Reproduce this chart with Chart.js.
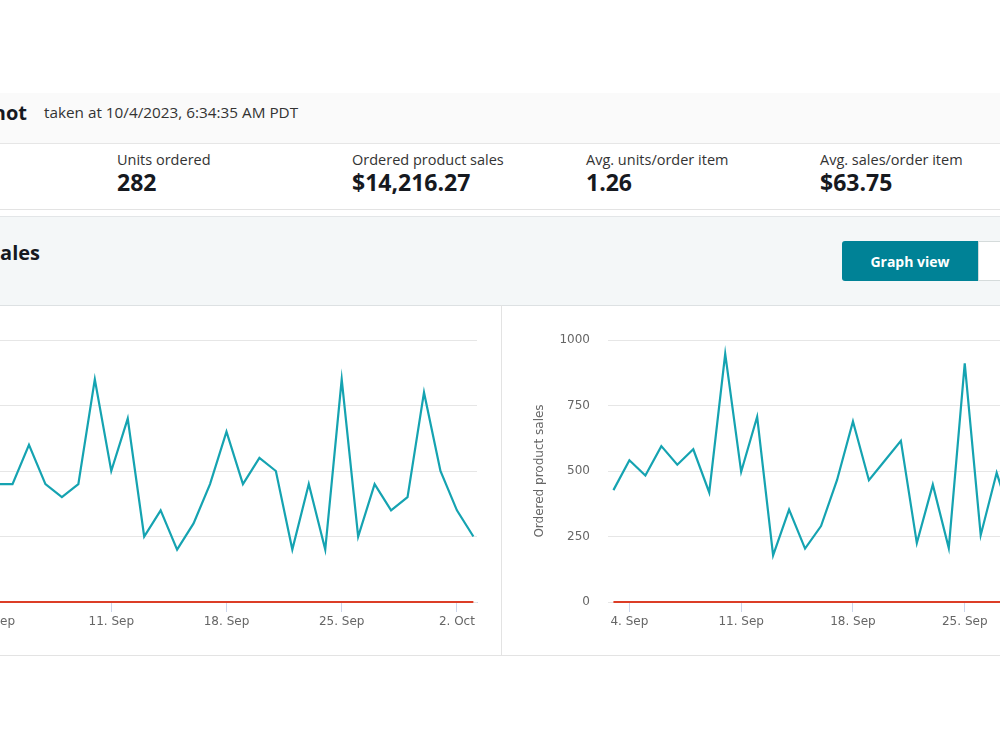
<!DOCTYPE html>
<html>
<head>
<meta charset="utf-8">
<script src="https://cdn.jsdelivr.net/npm/chart.js@4.4.0/dist/chart.umd.min.js"></script>
<style>
  html, body { margin: 0; padding: 0; width: 1000px; height: 750px; overflow: hidden; background: #fff; }
  body { position: relative; font-family: "Open Sans", sans-serif; color: #0f1111; }
  .abs { position: absolute; }
  .snap { left: 0; top: 93px; width: 1000px; height: 50px; background: #fafafa; border-bottom: 1px solid #e6e6e6; }
  .metrics { left: 0; top: 144px; width: 1000px; height: 65px; background: #fff; border-bottom: 1px solid #e3e3e3; }
  .panel { left: 0; top: 216px; width: 1000px; height: 88px; background: #f4f7f8; border-top: 1px solid #e3e6e8; border-bottom: 1px solid #dde1e3; }
  .charts { left: 0; top: 305px; width: 1000px; height: 350px; border-bottom: 1px solid #e3e3e3; }
  .divider { left: 501px; top: 305px; width: 1px; height: 350px; background: #e3e3e3; }
  .ttl { font-weight: 700; font-size: 20px; line-height: 24px; white-space: nowrap; color: #16191f; }
  .taken { left: 44px; top: 103px; font-size: 15.3px; line-height: 19px; color: #333; white-space: nowrap; }
  .lbl { top: 151px; font-size: 14.5px; line-height: 18px; color: #333; white-space: nowrap; }
  .val { top: 168px; font-size: 23px; line-height: 28px; font-weight: 700; color: #16191f; white-space: nowrap; }
  .btn { left: 842px; top: 241px; width: 136px; height: 40px; background: #008296; color: #fff; border-radius: 3px 0 0 3px;
         font-weight: 700; font-size: 14px; display: flex; align-items: center; justify-content: center; }
  .btn2 { left: 978px; top: 241px; width: 60px; height: 38px; background: #fff; border: 1px solid #d5dbdb; }
  .chartbox { top: 305px; height: 350px; }
</style>
</head>
<body>
<div class="abs snap"></div>
<div class="abs ttl" style="right:973px; top:101px;">Sales Snapshot</div>
<div class="abs taken">taken at 10/4/2023, 6:34:35 AM PDT</div>

<div class="abs metrics"></div>
<div class="abs lbl" style="left:117px">Units ordered</div>
<div class="abs val" style="left:117px">282</div>
<div class="abs lbl" style="left:352px">Ordered product sales</div>
<div class="abs val" style="left:352px">$14,216.27</div>
<div class="abs lbl" style="left:586px">Avg. units/order item</div>
<div class="abs val" style="left:586px">1.26</div>
<div class="abs lbl" style="left:820px">Avg. sales/order item</div>
<div class="abs val" style="left:820px">$63.75</div>

<div class="abs panel"></div>
<div class="abs ttl" style="right:960px; top:241px;">Compare Sales</div>
<div class="abs btn">Graph view</div>
<div class="abs btn2"></div>

<div class="abs charts"></div>
<div class="abs chartbox" style="left:-132px; width:633px;"><canvas id="chartUnits"></canvas></div>
<div class="abs divider"></div>
<div class="abs chartbox" style="left:502px; width:618px;"><canvas id="chartSales"></canvas></div>

<script>
// days shown on the x axis (3 Sep - 3 Oct 2023)
const days = ['3. Sep', '4. Sep', '5. Sep', '6. Sep', '7. Sep', '8. Sep', '9. Sep', '10. Sep',
  '11. Sep', '12. Sep', '13. Sep', '14. Sep', '15. Sep', '16. Sep', '17. Sep', '18. Sep',
  '19. Sep', '20. Sep', '21. Sep', '22. Sep', '23. Sep', '24. Sep', '25. Sep', '26. Sep',
  '27. Sep', '28. Sep', '29. Sep', '30. Sep', '1. Oct', '2. Oct', '3. Oct'];
const xTickLabels = ['4. Sep', '11. Sep', '18. Sep', '25. Sep', '2. Oct'];

const unitsOrdered = [10, 9, 9, 12, 9, 8, 9, 17, 10, 14, 5, 7, 4, 6, 9, 13,
  9, 11, 10, 4, 9, 4, 17, 5, 9, 7, 8, 16, 10, 7, 5];
const orderedSales = [427, 541, 483, 595, 524, 583, 418, 947, 497, 707, 178, 353, 204, 290, 465, 689,
  465, 540, 615, 225, 448, 206, 911, 255, 493, 300, 330, 680, 400, 270, 177];
const compareUnits = [0, 0, 0, 0, 0, 0, 0, 0, 0, 0, 0, 0, 0, 0, 0, 0,
  0, 0, 0, 0, 0, 0, 0, 0, 0, 0, 0, 0, 0, 0, 0];
const compareSales = [0, 0, 0, 0, 0, 0, 0, 0, 0, 0, 0, 0, 0, 0, 0, 0,
  0, 0, 0, 0, 0, 0, 0, 0, 0, 0, 0, 0, 0, 0, 0];

const unitsTicks = [0, 5, 10, 15, 20];
const salesTicks = [0, 250, 500, 750, 1000];

Chart.defaults.font.family = 'DejaVu Sans';
Chart.defaults.font.size = 12;
Chart.defaults.color = '#666666';

const tickPositions = xTickLabels.map(l => days.indexOf(l));
const toPoints = arr => arr.map((v, i) => ({ x: i, y: v }));

function makeChart(id, values, compare, yTicks, yTitle) {
    const ctx = document.getElementById(id);
    if (!ctx) return;
    new Chart(ctx, {
        type: 'line',
        data: {
            datasets: [{
                data: toPoints(compare),
                borderColor: '#dc3d26',
                borderWidth: 2,
                pointRadius: 0,
                clip: false,
            }, {
                data: toPoints(values),
                borderColor: '#15a3b1',
                borderWidth: 2.2,
                pointRadius: 0,
            }],
        },
        options: {
            animation: false,
            maintainAspectRatio: false,
            layout: { padding: { top: 35, right: 24, bottom: 0, left: 0 } },
            plugins: {
                legend: { display: false },
                tooltip: { enabled: false },
            },
            scales: {
                x: {
                    type: 'linear',
                    min: -0.34,
                    max: 30.22,
                    afterBuildTicks: s => { s.ticks = tickPositions.map(v => ({ value: v })); },
                    afterFit: s => { s.height = 53; },
                    ticks: {
                        autoSkip: false,
                        maxRotation: 0,
                        padding: 3,
                        callback: v => days[v],
                    },
                    grid: { drawOnChartArea: false, tickLength: 10, color: '#ccd6eb', z: -1 },
                    border: { color: '#ccd6eb', z: -1 },
                },
                y: {
                    min: yTicks[0],
                    max: yTicks[yTicks.length - 1],
                    afterBuildTicks: s => { s.ticks = yTicks.map(v => ({ value: v })); },
                    afterFit: s => { s.width = 106; },
                    ticks: { padding: 18, callback: v => String(v) },
                    grid: { color: '#e6e6e6', drawTicks: false },
                    border: { display: false },
                    title: { display: true, text: yTitle, color: '#666666', padding: { top: 31, bottom: 0 } },
                },
            },
        },
    });
}

makeChart('chartUnits', unitsOrdered, compareUnits, unitsTicks, 'Units ordered');
makeChart('chartSales', orderedSales, compareSales, salesTicks, 'Ordered product sales');
</script>
</body>
</html>
